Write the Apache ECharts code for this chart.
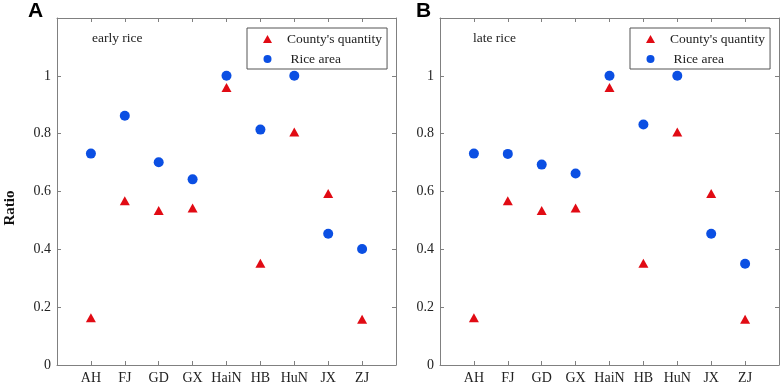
<!DOCTYPE html>
<html>
<head>
<meta charset="utf-8">
<script src="https://cdn.jsdelivr.net/npm/echarts@6/dist/echarts.min.js"></script>
<style>
  html, body { margin: 0; padding: 0; background: #fff; }
  #chartContainer { width: 782px; height: 385px; }
</style>
</head>
<body>
<div id="chartContainer"></div>
<script>
const provinces = ['AH', 'FJ', 'GD', 'GX', 'HaiN', 'HB', 'HuN', 'JX', 'ZJ'];
const yTicks = [0, 0.2, 0.4, 0.6, 0.8, 1];

// early rice
const earlyCounty = [0.163, 0.568, 0.534, 0.543, 0.960, 0.352, 0.806, 0.593, 0.158];
const earlyArea = [0.731, 0.862, 0.701, 0.642, 1.0, 0.814, 1.0, 0.454, 0.401];

// late rice
const lateCounty = [0.163, 0.568, 0.534, 0.543, 0.960, 0.352, 0.806, 0.593, 0.158];
const lateArea = [0.731, 0.730, 0.693, 0.662, 1.0, 0.832, 1.0, 0.454, 0.350];

const RED = '#e10b14';
const BLUE = '#0b4fe3';
const AXIS = '#808080';
const FONT = '"Liberation Serif", "Times New Roman", serif';

const toPoints = values => values.map((v, i) => [i + 1, v]);

function axisBase(gridIndex) {
    return {
        gridIndex: gridIndex, type: 'value',
        splitLine: { show: false },
        axisLine: { show: true, onZero: false, lineStyle: { color: AXIS, width: 1 } },
        axisTick: { show: true, inside: true, length: 4, lineStyle: { color: AXIS } }
    };
}

function xAxes(gridIndex) {
    const base = Object.assign(axisBase(gridIndex), { min: 0, max: 10, interval: 1 });
    return [
        Object.assign({}, base, {
            position: 'bottom',
            axisLabel: {
                margin: 6, fontFamily: FONT, fontSize: 14, color: '#222',
                formatter: v => provinces[v - 1] || ''
            }
        }),
        Object.assign({}, base, { position: 'top', axisLabel: { show: false } })
    ];
}

function yAxes(gridIndex) {
    const base = Object.assign(axisBase(gridIndex), { min: 0, max: 1.2, interval: 0.2 });
    return [
        Object.assign({}, base, {
            position: 'left',
            axisLabel: {
                margin: 6, fontFamily: FONT, fontSize: 14, color: '#222',
                formatter: v => yTicks.some(t => Math.abs(t - v) < 1e-6) ? String(+v.toFixed(1)) : ''
            }
        }),
        Object.assign({}, base, { position: 'right', axisLabel: { show: false } })
    ];
}

function legendFor(left) {
    return {
        left: left, top: 28, orient: 'vertical',
        data: ["County's quantity", 'Rice area'],
        itemWidth: 9, itemHeight: 8, itemGap: 6,
        padding: [4, 5, 3, 16],
        borderColor: '#555', borderWidth: 1, borderRadius: 0,
        selectedMode: false,
        textStyle: { fontFamily: FONT, fontSize: 13.5, color: '#222', lineHeight: 14, padding: [0, 0, 0, 10] },
        formatter: name => name === 'Rice area' ? ' ' + name : name
    };
}

function scatter(name, data, axisIdx, symbol, color, size) {
    return {
        name: name, type: 'scatter', xAxisIndex: axisIdx, yAxisIndex: axisIdx,
        symbol: symbol, symbolSize: size,
        itemStyle: { color: color, opacity: 1 },
        data: toPoints(data)
    };
}

const myChart = echarts.init(document.getElementById('chartContainer'));
const option = {
    animation: false,
    backgroundColor: '#fff',
    grid: [
        { left: 57, top: 18, right: 386, bottom: 20 },
        { left: 440, top: 18, right: 2, bottom: 20 }
    ],
    xAxis: xAxes(0).concat(xAxes(1)),
    yAxis: yAxes(0).concat(yAxes(1)),
    legend: [legendFor(247), legendFor(630)],
    series: [
        scatter("County's quantity", earlyCounty, 0, 'triangle', RED, [10, 9]),
        scatter('Rice area', earlyArea, 0, 'circle', BLUE, 10),
        scatter("County's quantity", lateCounty, 2, 'triangle', RED, [10, 9]),
        scatter('Rice area', lateArea, 2, 'circle', BLUE, 10)
    ],
    graphic: [
        { type: 'text', left: 28, top: 1, style: { text: 'A', font: 'bold 21px "Liberation Sans", Arial, sans-serif', fill: '#000' } },
        { type: 'text', left: 416, top: 1, style: { text: 'B', font: 'bold 21px "Liberation Sans", Arial, sans-serif', fill: '#000' } },
        { type: 'text', left: 92, top: 31, style: { text: 'early rice', font: '13.5px ' + FONT, fill: '#222' } },
        { type: 'text', left: 473, top: 31, style: { text: 'late rice', font: '13.5px ' + FONT, fill: '#222' } },
        { type: 'text', x: 10, y: 208, rotation: Math.PI / 2,
          style: { text: 'Ratio', font: 'bold 15px ' + FONT, fill: '#111', align: 'center', verticalAlign: 'middle' } }
    ]
};
myChart.setOption(option);
</script>
</body>
</html>
